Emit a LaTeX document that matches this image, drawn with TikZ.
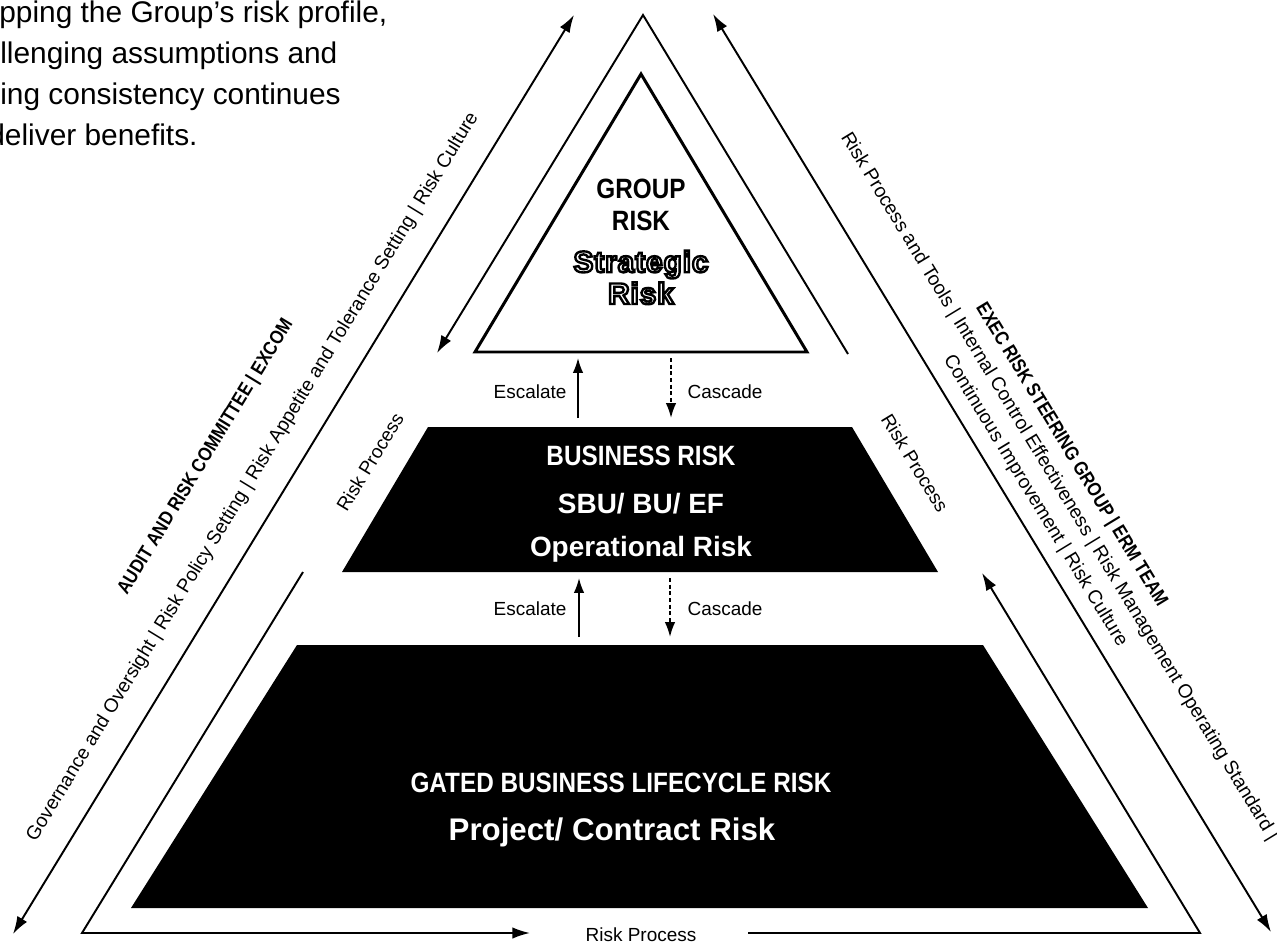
\documentclass[tikz,border=0pt]{standalone}
\usepackage{fontspec}
\setmainfont{Liberation Sans}
\newfontfamily\condfont[FakeStretch=0.87]{Liberation Sans}
\newfontfamily\outlinefont[FakeBold=8,LetterSpace=3]{Liberation Sans Bold}
\newcommand\outlined[1]{{\outlinefont\special{pdf:bcolor [1] [0]}#1\special{pdf:ecolor}}}
\usetikzlibrary{arrows.meta}
\tikzset{
  frame line/.style={
    line width=1.1pt
  },
  frame arrow/.style={
    line width=1.1pt,
    -{Latex[length=10pt,width=6.5pt]}
  },
  outer arrow/.style={
    line width=1.1pt,
    {Latex[length=10pt,width=6.5pt]}-{Latex[length=10pt,width=6.5pt]}
  },
  escalate arrow/.style={
    line width=1pt,
    -{Latex[length=8.5pt,width=6pt]}
  },
  cascade arrow/.style={
    escalate arrow,
    dash pattern=on 2.2pt off 1.6pt
  },
  small label/.style={
    font=\fontsize{10.8}{13}\selectfont,
    inner sep=0pt
  },
  side label/.style={
    font=\fontsize{11}{15.9}\selectfont,
    inner sep=0pt
  },
  side title/.style={
    font=\fontsize{11}{13}\condfont\bfseries,
    inner sep=0pt
  },
  level title/.style={
    font=\fontsize{15.9}{18.1}\condfont\bfseries,
    inner sep=0pt
  },
  level text/.style={
    font=\fontsize{15.9}{18}\selectfont\bfseries,
    inner sep=0pt
  },
  intro line/.style={
    font=\fontsize{17}{23}\selectfont,
    inner sep=0pt,
    anchor=base west
  }
}

\begin{document}
\begin{tikzpicture}[x=0.02cm,y=-0.02cm]
  \useasboundingbox (0,0) rectangle (1277,943);

  % ---------- intro text ----------
  \node[intro line] (intro1) at (-1,22) {pping the Group’s risk profile,};
  \node[intro line] (intro2) at (0,63) {llenging assumptions and};
  \node[intro line] (intro3) at (0,104) {ing consistency continues};
  \node[intro line] (intro4) at (-12,145) {deliver benefits.};

  % ---------- outer frame ----------
  \coordinate (apex) at (643,15);
  \coordinate (baseL) at (82,933);
  \coordinate (baseR) at (1200,933);
  \coordinate (gapLtop) at (437,353);
  \coordinate (gapLbot) at (303,572);
  \coordinate (gapRtop) at (848,354);
  \coordinate (gapRbot) at (982,573);
  \coordinate (gapBl) at (530,933);
  \coordinate (gapBr) at (748,933);

  \draw[frame arrow] (gapRtop) -- (apex) -- (gapLtop);
  \draw[frame arrow] (gapLbot) -- (baseL) -- (gapBl);
  \draw[frame arrow] (gapBr) -- (baseR) -- (gapRbot);

  \node[small label, rotate=58.6] (procL) at (370,462) {Risk Process};
  \node[small label, rotate=-58.7] (procR) at (915,463) {Risk Process};
  \node[small label] (procB) at (641,935) {Risk Process};

  % ---------- side arrows ----------
  \coordinate (outLbot) at (13,934);
  \coordinate (outLtop) at (574,15);
  \coordinate (outRtop) at (713,14);
  \coordinate (outRbot) at (1271,932);
  \draw[outer arrow] (outLbot) -- (outLtop);
  \draw[outer arrow] (outRtop) -- (outRbot);

  % left side texts
  \node[side label, rotate=58.6] (govText) at (253,477)
    {Governance and Oversight | Risk Policy Setting | Risk Appetite and Tolerance Setting | Risk Culture};
  \node[side title, rotate=58.6] (auditTitle) at (206,457)
    {AUDIT AND RISK COMMITTEE | EXCOM};

  % right side texts
  \node[side label, rotate=-58.7, align=center] (toolText) at (1047,494)
    {Risk Process and Tools | Internal Control Effectiveness | Risk Management Operating Standard |\\
     Continuous Improvement | Risk Culture};
  \node[side title, rotate=-58.7] (execTitle) at (1071,455)
    {EXEC RISK STEERING GROUP | ERM TEAM};

  % ---------- group risk ----------
  \draw[line width=1.7pt] (641,74) -- (807,352) -- (475,352) -- cycle;
  \node[level title, align=center, anchor=base] (groupTitle) at (641,230)
    {GROUP\\RISK};
  \node[font=\fontsize{17}{18.1}\selectfont, align=center,
    inner sep=0pt, anchor=base] (groupSub) at (641,304)
    {\outlined{Strategic}\\\outlined{Risk}};

  % ---------- business risk ----------
  \fill (428,427) -- (852,427) -- (938,572) -- (342,572) -- cycle;
  \node[level title, text=white, anchor=base] (bizTitle) at (641,465)
    {BUSINESS RISK};
  \node[level text, text=white, anchor=base] (bizUnits) at (641,513)
    {SBU/ BU/ EF};
  \node[level text, text=white, anchor=base] (bizOps) at (641,556)
    {Operational Risk};

  % ---------- lifecycle risk ----------
  \fill (297,645) -- (983,645) -- (1148,908) -- (131,908) -- cycle;
  \node[level title, text=white, anchor=base] (gateTitle) at (621,792)
    {GATED BUSINESS LIFECYCLE RISK};
  \node[level text, font=\fontsize{17.8}{20}\selectfont\bfseries, text=white,
    anchor=base] (gateSub) at (612,840)
    {Project/ Contract Risk};

  % ---------- escalate / cascade ----------
  \coordinate (esc1a) at (578,418);
  \coordinate (esc1b) at (578,358);
  \coordinate (cas1a) at (671,358);
  \coordinate (cas1b) at (671,418);
  \draw[escalate arrow] (esc1a) -- (esc1b);
  \draw[cascade arrow] (cas1a) -- (cas1b);
  \node[small label, anchor=base] (escLabel1) at (530,398) {Escalate};
  \node[small label, anchor=base] (casLabel1) at (725,398) {Cascade};

  \coordinate (esc2a) at (579,637);
  \coordinate (esc2b) at (579,578);
  \coordinate (cas2a) at (670,578);
  \coordinate (cas2b) at (670,637);
  \draw[escalate arrow] (esc2a) -- (esc2b);
  \draw[cascade arrow] (cas2a) -- (cas2b);
  \node[small label, anchor=base] (escLabel2) at (530,615) {Escalate};
  \node[small label, anchor=base] (casLabel2) at (725,615) {Cascade};

\end{tikzpicture}
\end{document}
